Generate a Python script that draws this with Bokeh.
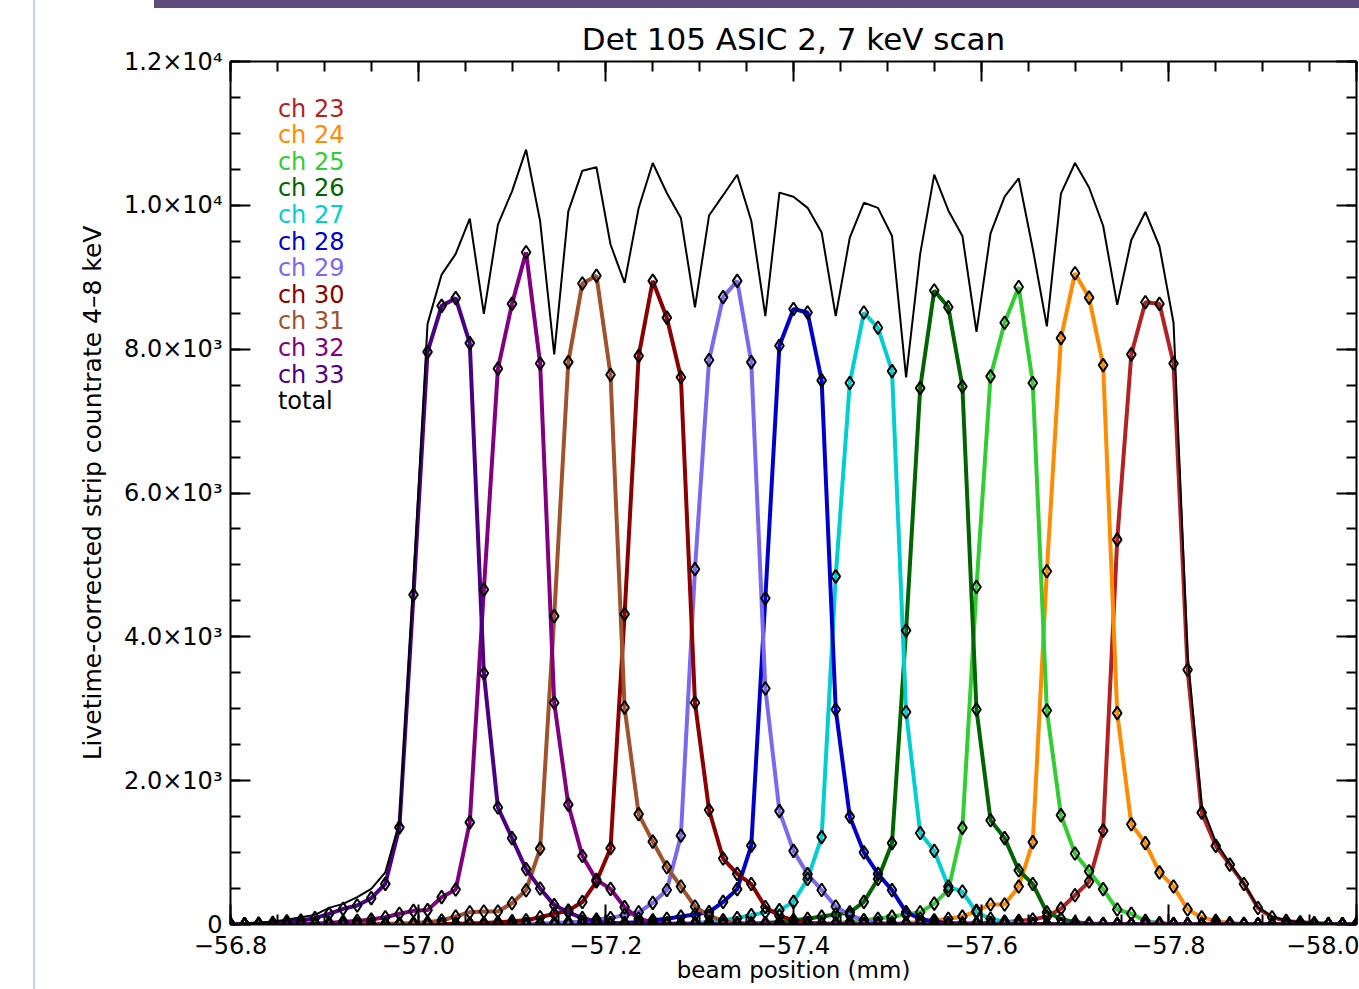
from bokeh.plotting import figure
from bokeh.models import Range1d, FixedTicker, LinearAxis, Label
from bokeh.embed import file_html
from bokeh.resources import INLINE

# ---------------- data ----------------
scan_start = -56.8      # mm
scan_step = -0.015      # mm per scan point
n_points = 81
beam_pos = [round(scan_start + scan_step * i, 4) for i in range(n_points)]

ch23 = [0, 0, 0, 0, 0, 0, 0, 0, 0, 0,
        0, 0, 0, 0, 0, 0, 0, 0, 0, 0,
        0, 0, 0, 0, 0, 0, 0, 0, 0, 0,
        0, 0, 0, 0, 0, 0, 0, 0, 0, 0,
        0, 0, 0, 0, 0, 0, 0, 0, 0, 0,
        5, 10, 15, 20, 25, 30, 50, 70, 110, 220,
        406, 597, 1306, 5352, 7928, 8652, 8630, 7800, 3542, 1556,
        1094, 833, 563, 229, 101, 50, 30, 20, 10, 5,
        5]
ch24 = [0, 0, 0, 0, 0, 0, 0, 0, 0, 0,
        0, 0, 0, 0, 0, 0, 0, 0, 0, 0,
        0, 0, 0, 0, 0, 0, 0, 0, 0, 0,
        0, 0, 0, 0, 0, 0, 0, 0, 0, 0,
        0, 0, 0, 0, 0, 5, 10, 15, 20, 35,
        60, 80, 110, 190, 278, 278, 528, 1145, 4912, 8154,
        9056, 8716, 7778, 2939, 1393, 1131, 725, 528, 208, 101,
        50, 20, 10, 5, 5, 0, 0, 0, 0, 0,
        0]
ch25 = [0, 0, 0, 0, 0, 0, 0, 0, 0, 0,
        0, 0, 0, 0, 0, 0, 0, 0, 0, 0,
        0, 0, 0, 0, 0, 0, 0, 0, 0, 0,
        0, 0, 0, 0, 0, 0, 0, 0, 0, 0,
        5, 10, 15, 20, 35, 60, 80, 110, 140, 170,
        290, 478, 1343, 4692, 7622, 8367, 8865, 7530, 2975, 1521,
        988, 740, 492, 208, 150, 50, 20, 10, 5, 5,
        0, 0, 0, 0, 0, 0, 0, 0, 0, 0,
        0]
ch26 = [0, 0, 0, 0, 0, 0, 0, 0, 0, 0,
        0, 0, 0, 0, 0, 0, 0, 0, 0, 0,
        0, 0, 0, 0, 0, 0, 0, 0, 0, 0,
        0, 0, 0, 0, 0, 5, 10, 15, 20, 35,
        60, 80, 110, 140, 170, 314, 633, 1131, 4089, 7459,
        8815, 8582, 7481, 2989, 1449, 1201, 754, 563, 170, 80,
        30, 15, 10, 5, 5, 0, 0, 0, 0, 0,
        0, 0, 0, 0, 0, 0, 0, 0, 0, 0,
        0]
ch27 = [0, 0, 0, 0, 0, 0, 0, 0, 0, 0,
        0, 0, 0, 0, 0, 0, 0, 0, 0, 0,
        0, 0, 0, 0, 0, 0, 0, 0, 0, 0,
        5, 10, 15, 20, 35, 60, 90, 130, 170, 200,
        314, 633, 1215, 4841, 7530, 8509, 8297, 7695, 2954, 1272,
        1024, 528, 458, 170, 80, 40, 20, 10, 5, 5,
        0, 0, 0, 0, 0, 0, 0, 0, 0, 0,
        0, 0, 0, 0, 0, 0, 0, 0, 0, 0,
        0]
ch28 = [0, 0, 0, 0, 0, 0, 0, 0, 0, 0,
        0, 0, 0, 0, 0, 0, 0, 0, 0, 0,
        0, 0, 0, 0, 0, 5, 10, 15, 20, 35,
        60, 80, 110, 140, 172, 314, 492, 1097, 4537, 8047,
        8558, 8509, 7566, 2989, 1500, 1003, 704, 478, 172, 80,
        40, 20, 10, 5, 5, 0, 0, 0, 0, 0,
        0, 0, 0, 0, 0, 0, 0, 0, 0, 0,
        0, 0, 0, 0, 0, 0, 0, 0, 0, 0,
        0]
ch29 = [0, 0, 0, 0, 0, 0, 0, 0, 0, 0,
        0, 0, 0, 0, 0, 0, 0, 0, 0, 0,
        5, 10, 15, 20, 30, 40, 70, 90, 130, 170,
        300, 480, 1236, 4941, 7849, 8723, 8949, 7820, 3281, 1577,
        1024, 700, 480, 250, 130, 60, 25, 10, 5, 5,
        0, 0, 0, 0, 0, 0, 0, 0, 0, 0,
        0, 0, 0, 0, 0, 0, 0, 0, 0, 0,
        0, 0, 0, 0, 0, 0, 0, 0, 0, 0,
        0]
ch30 = [0, 0, 0, 0, 0, 0, 0, 0, 0, 0,
        0, 0, 0, 0, 0, 5, 10, 15, 20, 30,
        45, 60, 100, 150, 194, 312, 597, 1060, 4316, 7906,
        8949, 8438, 7609, 3084, 1592, 917, 704, 563, 243, 120,
        60, 25, 10, 5, 5, 0, 0, 0, 0, 0,
        0, 0, 0, 0, 0, 0, 0, 0, 0, 0,
        0, 0, 0, 0, 0, 0, 0, 0, 0, 0,
        0, 0, 0, 0, 0, 0, 0, 0, 0, 0,
        0]
ch31 = [0, 0, 0, 0, 0, 0, 0, 0, 5, 5,
        10, 10, 15, 20, 30, 56, 111, 171, 180, 180,
        296, 477, 1055, 4288, 7820, 8914, 9020, 7644, 3015, 1535,
        1153, 797, 528, 250, 120, 50, 20, 10, 5, 5,
        0, 0, 0, 0, 0, 0, 0, 0, 0, 0,
        0, 0, 0, 0, 0, 0, 0, 0, 0, 0,
        0, 0, 0, 0, 0, 0, 0, 0, 0, 0,
        0, 0, 0, 0, 0, 0, 0, 0, 0, 0,
        0]
ch32 = [0, 0, 0, 0, 5, 10, 15, 20, 40, 50,
        70, 100, 150, 190, 200, 380, 486, 1420, 4657, 7730,
        8630, 9348, 7800, 3084, 1667, 953, 620, 495, 241, 80,
        30, 15, 10, 5, 5, 0, 0, 0, 0, 0,
        0, 0, 0, 0, 0, 0, 0, 0, 0, 0,
        0, 0, 0, 0, 0, 0, 0, 0, 0, 0,
        0, 0, 0, 0, 0, 0, 0, 0, 0, 0,
        0, 0, 0, 0, 0, 0, 0, 0, 0, 0,
        0]
ch33 = [5, 5, 14, 25, 43, 56, 88, 148, 218, 264,
        366, 565, 1351, 4586, 7963, 8602, 8709, 8084, 3493, 1627,
        1201, 770, 500, 270, 170, 90, 40, 20, 10, 5,
        5, 5, 0, 0, 0, 0, 0, 0, 0, 0,
        0, 0, 0, 0, 0, 0, 0, 0, 0, 0,
        0, 0, 0, 0, 0, 0, 0, 0, 0, 0,
        0, 0, 0, 0, 0, 0, 0, 0, 0, 0,
        0, 0, 0, 0, 0, 0, 0, 0, 0, 0,
        0]
total = [5, 14, 25, 43, 65, 102, 134, 231, 287, 380,
         495, 726, 1421, 4790, 8352, 9037, 9325, 9815, 8491, 9732,
         10195, 10775, 9778, 7927, 9917, 10482, 10529, 9455, 8922, 9963,
         10589, 10172, 9823, 8582, 9858, 10141, 10426, 9786, 8461, 10177,
         10120, 9965, 9623, 8459, 9552, 10035, 9965, 9574, 7609, 9326,
         10426, 9929, 9574, 8239, 9609, 10120, 10376, 9397, 8318, 10163,
         10589, 10248, 9716, 8616, 9517, 9908, 9431, 8367, 3750, 1660,
         1150, 850, 570, 240, 110, 55, 30, 20, 10, 10,
         5]

channel_names = ["ch 23", "ch 24", "ch 25", "ch 26", "ch 27", "ch 28",
                 "ch 29", "ch 30", "ch 31", "ch 32", "ch 33"]
channel_data = [ch23, ch24, ch25, ch26, ch27, ch28, ch29, ch30, ch31, ch32, ch33]
channel_colors = ["#B22222", "#FF8C00", "#32CD32", "#006400", "#00CED1", "#0000CD",
                  "#7B68EE", "#8B0000", "#A0522D", "#800080", "#4B0082"]

x_ticks = [-56.8, -57.0, -57.2, -57.4, -57.6, -57.8, -58.0]
x_tick_labels = ["\u221256.8", "\u221257.0", "\u221257.2", "\u221257.4",
                 "\u221257.6", "\u221257.8", "\u221258.0"]
y_ticks = [0, 2000, 4000, 6000, 8000, 10000, 12000]
y_tick_labels = ["0", "2.0\u00d710\u00b3", "4.0\u00d710\u00b3", "6.0\u00d710\u00b3",
                 "8.0\u00d710\u00b3", "1.0\u00d710\u2074", "1.2\u00d710\u2074"]

title_text = "Det 105 ASIC 2, 7 keV scan"
x_label = "beam position (mm)"
y_label = "Livetime-corrected strip countrate 4\u20138 keV"

FONT = "DejaVu Sans"

# ---------------- figure ----------------
p = figure(width=1359, height=989,
           x_range=Range1d(-56.8, -58.0), y_range=Range1d(0, 12000),
           output_backend="svg", toolbar_location=None,
           min_border_left=230, min_border_right=3,
           min_border_top=61, min_border_bottom=65,
           title=title_text)
p.outline_line_color = None
p.xgrid.visible = False
p.ygrid.visible = False
p.background_fill_color = "white"
p.border_fill_color = None
# slide decorations around the chart (top bar, left rule)
p.styles = {
    "background-color": "white",
    "background-image": "linear-gradient(#5F4B7D, #5F4B7D), linear-gradient(#C3D2E8, #C3D2E8)",
    "background-size": "1205px 8px, 2px 100%",
    "background-position": "154px 0px, 33px 0px",
    "background-repeat": "no-repeat",
}

p.title.align = "center"
p.title.text_font = FONT
p.title.text_font_size = "31px"
p.title.text_font_style = "normal"
p.title.text_color = "black"

x_minor = [round(-56.8 - 0.05 * i, 3) for i in range(25)]
y_minor = [500 * i for i in range(25)]

def style_axis(ax, ticks, minor, labels, show_labels):
    ax.ticker = FixedTicker(ticks=ticks, minor_ticks=minor)
    ax.axis_line_width = 2
    ax.axis_line_color = "black"
    ax.major_tick_in = 20
    ax.major_tick_out = 0
    ax.minor_tick_in = 10
    ax.minor_tick_out = 0
    ax.major_tick_line_width = 2
    ax.minor_tick_line_width = 2
    ax.major_tick_line_color = "black"
    ax.minor_tick_line_color = "black"
    if show_labels:
        ax.major_label_overrides = {t: l for t, l in zip(ticks, labels)}
        ax.major_label_text_font = FONT
        ax.major_label_text_font_size = "24px"
        ax.major_label_text_color = "black"
    else:
        ax.major_label_overrides = {t: "" for t in ticks}
        ax.major_label_text_font_size = "0px"
        ax.major_label_standoff = 0

xa = p.xaxis[0]
style_axis(xa, x_ticks, x_minor, x_tick_labels, True)
xa.major_label_standoff = 11
xa.axis_label = x_label
xa.axis_label_text_font = FONT
xa.axis_label_text_font_size = "23px"
xa.axis_label_text_font_style = "normal"
xa.axis_label_text_color = "black"
xa.axis_label_standoff = 0

ya = p.yaxis[0]
style_axis(ya, y_ticks, y_minor, y_tick_labels, True)
ya.major_label_standoff = 8
ya.axis_label = y_label
ya.axis_label_text_font = FONT
ya.axis_label_text_font_size = "25px"
ya.axis_label_text_font_style = "normal"
ya.axis_label_text_color = "black"
ya.axis_label_standoff = 14

top_ax = LinearAxis()
style_axis(top_ax, x_ticks, x_minor, x_tick_labels, False)
p.add_layout(top_ax, "above")
right_ax = LinearAxis()
style_axis(right_ax, y_ticks, y_minor, y_tick_labels, False)
p.add_layout(right_ax, "right")

# channel curves with diamond markers
for name, vals, col in zip(channel_names, channel_data, channel_colors):
    p.line(beam_pos, vals, line_color=col, line_width=4)
for name, vals, col in zip(channel_names, channel_data, channel_colors):
    p.scatter(beam_pos, vals, marker="diamond", size=13, line_color="black",
              line_width=2, fill_color=None)
p.line(beam_pos, total, line_color="black", line_width=2)

# legend as coloured text
legend_names = channel_names + ["total"]
legend_colors = channel_colors + ["black"]
legend_x = -56.8505
legend_y0 = 11345
legend_dy = 370
for i, (nm, col) in enumerate(zip(legend_names, legend_colors)):
    p.add_layout(Label(x=legend_x, y=legend_y0 - legend_dy * i, text=nm,
                       text_color=col, text_font=FONT, text_font_size="24px",
                       text_baseline="middle", text_align="left"))

open("out.html", "w").write(file_html(p, INLINE))
